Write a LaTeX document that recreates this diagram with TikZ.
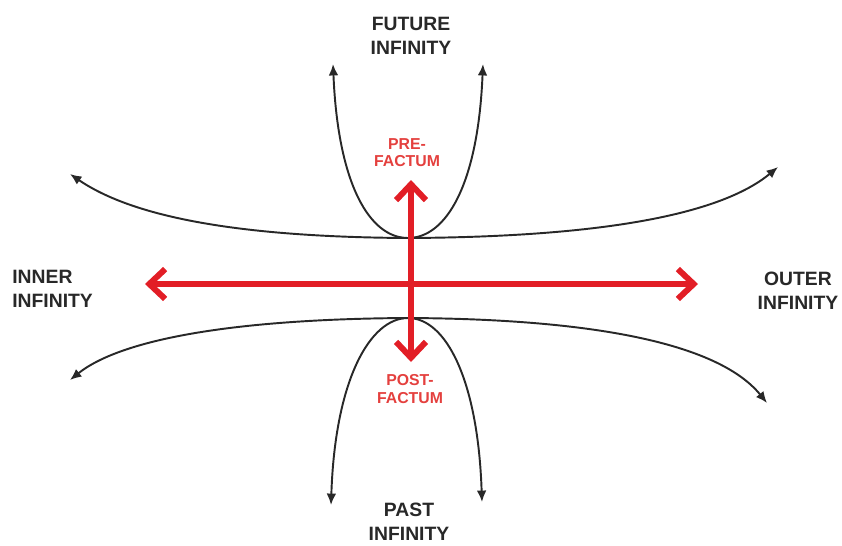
\documentclass[tikz,border=0pt]{standalone}
\usepackage{fontspec}
\setmainfont{Liberation Sans}
\usepackage{tikz}
\usetikzlibrary{positioning, arrows.meta}

\definecolor{axisred}{RGB}{226,30,38}
\definecolor{labelred}{RGB}{228,64,62}
\definecolor{inkgray}{RGB}{40,40,40}

\begin{document}
\begin{tikzpicture}[
  x=0.02cm, y=-0.02cm,
  font=\bfseries\fontsize{11}{13.6}\selectfont,
  lbl/.style={text=inkgray, align=center, inner sep=0pt},
  redlbl/.style={text=labelred, align=center, inner sep=0pt,
    font=\bfseries\fontsize{9}{9.8}\selectfont},
  flow/.style={{Latex[length=6.5pt,width=5.5pt]}-{Latex[length=6.5pt,width=5.5pt]},
    line width=1.1pt, inkgray},
  axis/.style={{Straight Barb[length=9pt,width=17pt]}-{Straight Barb[length=9pt,width=17pt]},
    line width=3.4pt, axisred, line cap=round, line join=round},
]
  \useasboundingbox (0,0) rectangle (842,545);

  \node[lbl] (fut) at (411,36) {FUTURE\\INFINITY};
  \node[lbl] (past) at (409,522) {PAST\\INFINITY};
  \node[lbl, align=left, anchor=west] (inn) at (12,289) {INNER\\INFINITY};
  \node[lbl] (out) at (798,291) {OUTER\\INFINITY};
  \node[redlbl] (pre) at (407,153) {PRE-\\FACTUM};
  \node[redlbl] (post) at (410,389) {POST-\\FACTUM};

  \coordinate (tc) at (408,238);
  \coordinate (bc) at (408,318);
  \coordinate (west) at (145,284);
  \coordinate (east) at (698,284);
  \coordinate (north) at (411,180);
  \coordinate (south) at (411,362);

  \draw[flow] (70,174) .. controls (130,215) and (230,237) .. (tc)
    .. controls (600,237) and (720,215) .. (778,167);
  \draw[flow] (70,380) .. controls (120,340) and (230,319) .. (bc)
    .. controls (600,319) and (720,345) .. (767,403);
  \draw[flow] (333,64) .. controls (338,185) and (370,238) .. (tc)
    .. controls (446,238) and (478,185) .. (483,64);
  \draw[flow] (331,505) .. controls (335,380) and (370,318) .. (bc)
    .. controls (446,318) and (478,380) .. (482,502);

  \draw[axis] (west) -- (east);
  \draw[axis] (north) -- (south);
\end{tikzpicture}
\end{document}
